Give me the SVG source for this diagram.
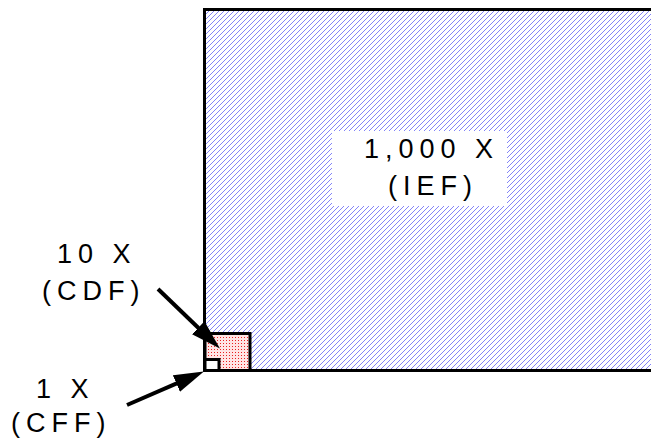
<svg xmlns="http://www.w3.org/2000/svg" width="651" height="440" viewBox="0 0 651 440">
<style>
.lbl{font-family:"Liberation Sans",Arial,sans-serif;font-size:27px;fill:#000;letter-spacing:6px}
.box{stroke:#000;stroke-width:3}
.conn{stroke:#000;stroke-width:4;fill:none}
</style>
<defs>
<pattern id="hatch" patternUnits="userSpaceOnUse" width="5" height="5">
<rect width="5" height="5" fill="#fff"/>
<path d="M-1,6 L6,-1" stroke="#5a5af5" stroke-width="0.75"/>
</pattern>
<pattern id="dots" patternUnits="userSpaceOnUse" width="3" height="3">
<rect width="3" height="3" fill="#ffe4e4"/>
<rect x="1" y="1" width="1" height="1" fill="#e82020"/>
</pattern>
<marker id="ah" markerUnits="userSpaceOnUse" viewBox="0 0 30 18" markerWidth="30" markerHeight="18" refX="1" refY="9" orient="auto">
<path d="M0,0 L30,9 L0,18 z" fill="#000"/>
</marker>
</defs>
<g id="ief">
<rect class="box" x="204.5" y="9.5" width="470" height="361" fill="url(#hatch)"/>
<rect x="332" y="131" width="175" height="75" fill="#fff"/>
<text class="lbl" x="364" y="158">1,000 X</text>
<text class="lbl" x="388" y="195">(IEF)</text>
</g>
<g id="cdf">
<rect class="box" x="205" y="333.5" width="45" height="37" fill="url(#dots)"/>
<text class="lbl" x="57" y="263">10 X</text>
<text class="lbl" x="42" y="300">(CDF)</text>
</g>
<g id="cff">
<rect class="box" x="205" y="359.5" width="14" height="11" fill="#fff"/>
<text class="lbl" x="36" y="398">1 X</text>
<text class="lbl" x="11" y="432">(CFF)</text>
</g>
<g id="connectors">
<line class="conn" x1="158" y1="289" x2="199" y2="328.5" marker-end="url(#ah)"/>
<line class="conn" x1="127" y1="405" x2="177.3" y2="383.1" marker-end="url(#ah)"/>
</g>
</svg>
